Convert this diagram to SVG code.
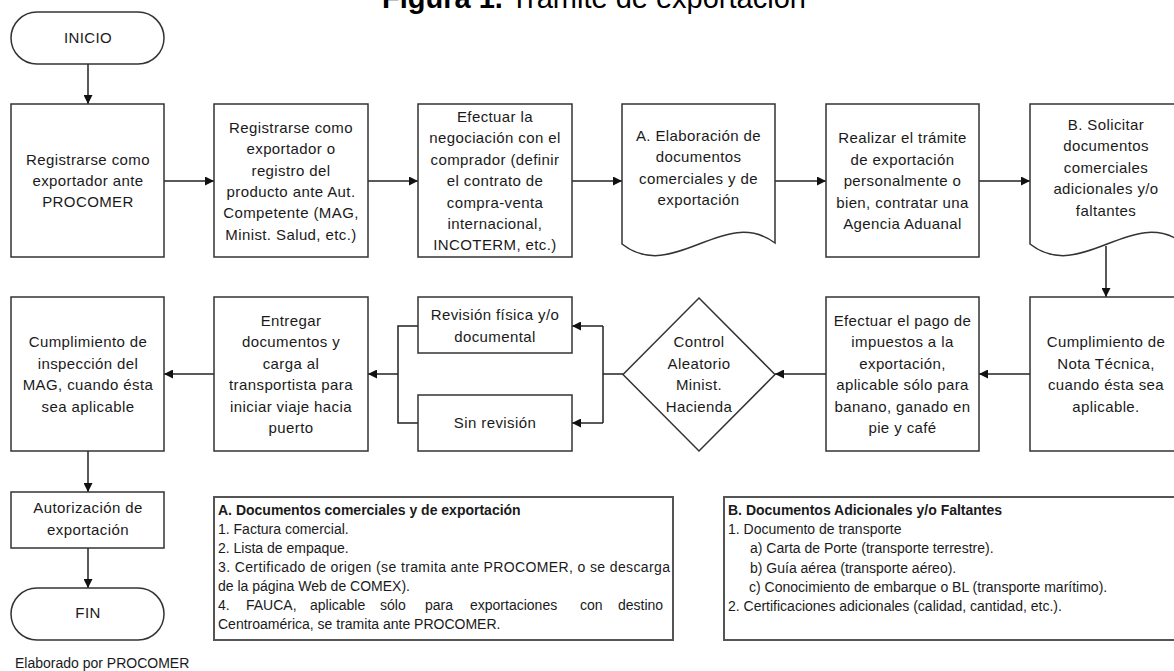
<svg xmlns="http://www.w3.org/2000/svg" width="1174" height="671" viewBox="0 0 1174 671">
<style>
  .box { fill: #ffffff; stroke: #333333; stroke-width: 1.5; }
  .note { fill: #ffffff; stroke: #555555; stroke-width: 2; }
  .t { font-family: "Liberation Sans", Arial, sans-serif; font-size: 15px; fill: #1a1a1a; text-anchor: middle; letter-spacing: 0.4px; }
  .l { font-family: "Liberation Sans", Arial, sans-serif; font-size: 14px; fill: #1a1a1a; }
  .b { font-weight: bold; }
  .c { fill: none; stroke: #222222; stroke-width: 1.5; }
  .title { font-family: "Liberation Sans", Arial, sans-serif; font-size: 29px; fill: #000000; }
</style>
<defs>
  <marker id="ah" viewBox="0 0 10 10" refX="10" refY="5" markerWidth="9" markerHeight="9" markerUnits="userSpaceOnUse" orient="auto">
    <path d="M0,0 L10,5 L0,10 z" fill="#111111"/>
  </marker>
</defs>
<rect width="1174" height="671" fill="#ffffff"/>

<text class="title" x="382" y="8"><tspan font-weight="bold">Figura 1.</tspan> Trámite de exportación</text>

<g id="connectors">
  <line class="c" x1="88" y1="64" x2="88" y2="104" marker-end="url(#ah)"/>
  <line class="c" x1="164" y1="181" x2="214" y2="181" marker-end="url(#ah)"/>
  <line class="c" x1="368" y1="181" x2="418" y2="181" marker-end="url(#ah)"/>
  <line class="c" x1="572" y1="181" x2="622" y2="181" marker-end="url(#ah)"/>
  <line class="c" x1="775" y1="181" x2="826" y2="181" marker-end="url(#ah)"/>
  <line class="c" x1="979" y1="181" x2="1030" y2="181" marker-end="url(#ah)"/>
  <line class="c" x1="1106" y1="246" x2="1106" y2="297" marker-end="url(#ah)"/>
  <line class="c" x1="1030" y1="374" x2="979" y2="374" marker-end="url(#ah)"/>
  <line class="c" x1="826" y1="374" x2="775" y2="374" marker-end="url(#ah)"/>
  <polyline class="c" points="623,374 603,374"/>
  <polyline class="c" points="603,326 603,423"/>
  <line class="c" x1="603" y1="326" x2="572" y2="326" marker-end="url(#ah)"/>
  <line class="c" x1="603" y1="423" x2="572" y2="423" marker-end="url(#ah)"/>
  <polyline class="c" points="418,326 398,326 398,423 418,423"/>
  <line class="c" x1="398" y1="374" x2="368" y2="374" marker-end="url(#ah)"/>
  <line class="c" x1="214" y1="374" x2="164" y2="374" marker-end="url(#ah)"/>
  <line class="c" x1="88" y1="451" x2="88" y2="492" marker-end="url(#ah)"/>
  <line class="c" x1="88" y1="548" x2="88" y2="588" marker-end="url(#ah)"/>
</g>

<g id="inicio">
  <rect class="box" x="11" y="12" width="153" height="52" rx="26" ry="26"/>
  <text class="t" x="88" y="43">INICIO</text>
</g>

<g id="registro-procomer">
  <rect class="box" x="11" y="104" width="153" height="153"/>
  <text class="t"><tspan x="88" y="165">Registrarse como</tspan><tspan x="88" y="186">exportador ante</tspan><tspan x="88" y="207">PROCOMER</tspan></text>
</g>

<g id="registro-producto">
  <rect class="box" x="214" y="104" width="154" height="153"/>
  <text class="t"><tspan x="291" y="133">Registrarse como</tspan><tspan x="291" y="154">exportador o</tspan><tspan x="291" y="176">registro del</tspan><tspan x="291" y="197">producto ante Aut.</tspan><tspan x="291" y="218">Competente (MAG,</tspan><tspan x="291" y="240">Minist. Salud, etc.)</tspan></text>
</g>

<g id="negociacion">
  <rect class="box" x="418" y="104" width="154" height="153"/>
  <text class="t"><tspan x="495" y="122">Efectuar la</tspan><tspan x="495" y="143">negociación con el</tspan><tspan x="495" y="165">comprador (definir</tspan><tspan x="495" y="186">el contrato de</tspan><tspan x="495" y="208">compra-venta</tspan><tspan x="495" y="229">internacional,</tspan><tspan x="495" y="250">INCOTERM, etc.)</tspan></text>
</g>

<g id="doc-a">
  <path class="box" d="M622,104 H775 V243 C724,205 673,284 622,244 Z"/>
  <text class="t"><tspan x="698.5" y="141">A. Elaboración de</tspan><tspan x="698.5" y="162">documentos</tspan><tspan x="698.5" y="184">comerciales y de</tspan><tspan x="698.5" y="205">exportación</tspan></text>
</g>

<g id="tramite">
  <rect class="box" x="826" y="104" width="153" height="153"/>
  <text class="t"><tspan x="902.5" y="143">Realizar el trámite</tspan><tspan x="902.5" y="165">de exportación</tspan><tspan x="902.5" y="186">personalmente o</tspan><tspan x="902.5" y="208">bien, contratar una</tspan><tspan x="902.5" y="229">Agencia Aduanal</tspan></text>
</g>

<g id="doc-b">
  <path class="box" d="M1030,104 H1183 V243 C1132,205 1081,284 1030,244 Z"/>
  <text class="t"><tspan x="1106" y="130">B. Solicitar</tspan><tspan x="1106" y="151">documentos</tspan><tspan x="1106" y="173">comerciales</tspan><tspan x="1106" y="194">adicionales y/o</tspan><tspan x="1106" y="216">faltantes</tspan></text>
</g>

<g id="nota-tecnica">
  <rect class="box" x="1030" y="297" width="153" height="154"/>
  <text class="t"><tspan x="1106" y="347">Cumplimiento de</tspan><tspan x="1106" y="369">Nota Técnica,</tspan><tspan x="1106" y="390">cuando ésta sea</tspan><tspan x="1106" y="412">aplicable.</tspan></text>
</g>

<g id="pago-impuestos">
  <rect class="box" x="826" y="297" width="153" height="154"/>
  <text class="t"><tspan x="902.5" y="326">Efectuar el pago de</tspan><tspan x="902.5" y="347">impuestos a la</tspan><tspan x="902.5" y="369">exportación,</tspan><tspan x="902.5" y="390">aplicable sólo para</tspan><tspan x="902.5" y="412">banano, ganado en</tspan><tspan x="902.5" y="433">pie y café</tspan></text>
</g>

<g id="control-aleatorio">
  <path class="box" d="M699,298 L775,374.5 L699,451 L623,374.5 Z"/>
  <text class="t"><tspan x="699" y="347">Control</tspan><tspan x="699" y="369">Aleatorio</tspan><tspan x="699" y="390">Minist.</tspan><tspan x="699" y="412">Hacienda</tspan></text>
</g>

<g id="revision-fisica">
  <rect class="box" x="418" y="297" width="154" height="56"/>
  <text class="t"><tspan x="495" y="320">Revisión física y/o</tspan><tspan x="495" y="342">documental</tspan></text>
</g>

<g id="sin-revision">
  <rect class="box" x="418" y="395" width="154" height="56"/>
  <text class="t" x="495" y="428">Sin revisión</text>
</g>

<g id="entregar">
  <rect class="box" x="214" y="297" width="154" height="154"/>
  <text class="t"><tspan x="291" y="326">Entregar</tspan><tspan x="291" y="347">documentos y</tspan><tspan x="291" y="369">carga al</tspan><tspan x="291" y="390">transportista para</tspan><tspan x="291" y="412">iniciar viaje hacia</tspan><tspan x="291" y="433">puerto</tspan></text>
</g>

<g id="inspeccion-mag">
  <rect class="box" x="11" y="297" width="153" height="154"/>
  <text class="t"><tspan x="88" y="347">Cumplimiento de</tspan><tspan x="88" y="369">inspección del</tspan><tspan x="88" y="390">MAG, cuando ésta</tspan><tspan x="88" y="412">sea aplicable</tspan></text>
</g>

<g id="autorizacion">
  <rect class="box" x="11" y="492" width="153" height="56"/>
  <text class="t"><tspan x="88" y="513">Autorización de</tspan><tspan x="88" y="535">exportación</tspan></text>
</g>

<g id="fin">
  <rect class="box" x="11" y="588" width="153" height="52" rx="26" ry="26"/>
  <text class="t" x="88" y="618">FIN</text>
</g>

<g id="nota-a">
  <rect class="note" x="214" y="497" width="459" height="143"/>
  <text class="l b" x="218" y="515">A. Documentos comerciales y de exportación</text>
  <text class="l" x="218" y="534">1. Factura comercial.</text>
  <text class="l" x="218" y="553">2. Lista de empaque.</text>
  <text class="l" x="218" y="572" textLength="452" lengthAdjust="spacing">3. Certificado de origen (se tramita ante PROCOMER, o se descarga</text>
  <text class="l" x="218" y="591">de la página Web de COMEX).</text>
  <text class="l" y="610"><tspan x="218">4.</tspan><tspan x="246">FAUCA,</tspan><tspan x="310">aplicable</tspan><tspan x="380">sólo</tspan><tspan x="425">para</tspan><tspan x="470">exportaciones</tspan><tspan x="580">con</tspan><tspan x="618">destino</tspan></text>
  <text class="l" x="218" y="629">Centroamérica, se tramita ante PROCOMER.</text>
</g>

<g id="nota-b">
  <rect class="note" x="724" y="497" width="480" height="143"/>
  <text class="l b" x="728" y="515">B. Documentos Adicionales y/o Faltantes</text>
  <text class="l" x="728" y="534">1. Documento de transporte</text>
  <text class="l" x="750" y="553">a) Carta de Porte (transporte terrestre).</text>
  <text class="l" x="750" y="573">b)  Guía aérea (transporte aéreo).</text>
  <text class="l" x="749" y="592">c) Conocimiento de embarque o BL (transporte marítimo).</text>
  <text class="l" x="728" y="611">2. Certificaciones adicionales (calidad, cantidad, etc.).</text>
</g>

<text class="l" x="15" y="668">Elaborado por PROCOMER</text>
</svg>
